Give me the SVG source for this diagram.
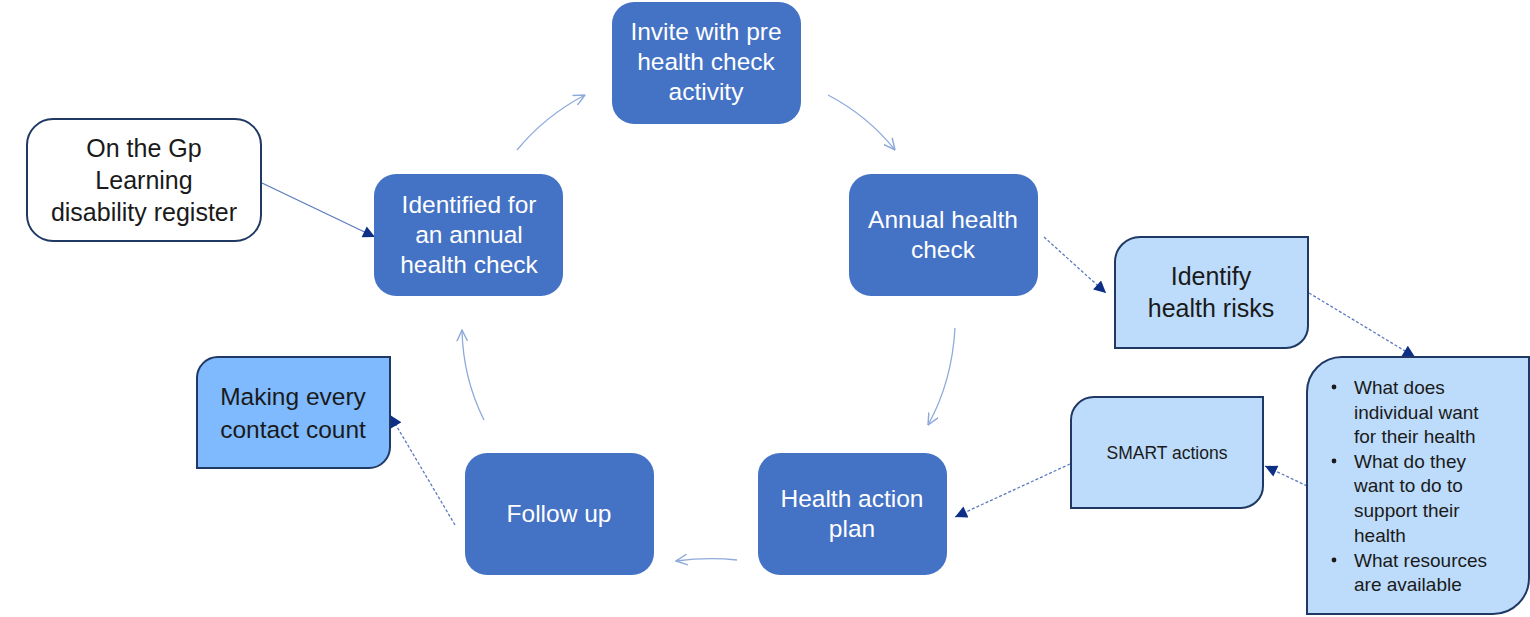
<svg xmlns="http://www.w3.org/2000/svg" width="1530" height="617" viewBox="0 0 1530 617">
<style>
.main{fill:#4472C4;}
.mt{font-family:"Liberation Sans",Arial,sans-serif;font-size:24.5px;fill:#ffffff;text-anchor:middle;}
.lt{font-family:"Liberation Sans",Arial,sans-serif;fill:#1a1a1a;text-anchor:middle;}
.light{fill:#BDDCFB;stroke:#1F3864;stroke-width:2;}
.bt{font-family:"Liberation Sans",Arial,sans-serif;font-size:19px;fill:#1a1a1a;}
.curve{fill:none;stroke:#8EAADB;stroke-width:1.3;marker-end:url(#open);}
.dash{fill:none;stroke:#5B7BC0;stroke-width:1.3;stroke-dasharray:3 2;marker-end:url(#tri);}
</style>
<defs>
<marker id="tri" viewBox="0 0 10 10" refX="10" refY="5" markerWidth="13" markerHeight="12" markerUnits="userSpaceOnUse" orient="auto">
<path d="M0,0 L10,5 L0,10 z" fill="#0E2F86"/>
</marker>
<marker id="open" viewBox="0 0 10 10" refX="9.5" refY="5" markerWidth="12" markerHeight="12" markerUnits="userSpaceOnUse" orient="auto">
<path d="M0,0.5 L9.5,5 L0,9.5" fill="none" stroke="#8EAADB" stroke-width="1.2"/>
</marker>
</defs>
<rect width="1530" height="617" fill="#ffffff"/>

<g id="connectors">
<path class="curve" d="M517,150 Q545,116 585,95"/>
<path class="curve" d="M828,95 Q868,116 895,150"/>
<path class="curve" d="M955,328 Q952,382 928,425"/>
<path class="curve" d="M737,560 Q707,557 676,561"/>
<path class="curve" d="M484,420 Q463,378 462,330"/>
<path d="M262,183 L375,237" fill="none" stroke="#5B7BC0" stroke-width="1.3" marker-end="url(#tri)"/>
<path class="dash" d="M1044,237 L1106,293"/>
<path class="dash" d="M1309,293 L1415,357"/>
<path class="dash" d="M1307,486 L1265,466"/>
<path class="dash" d="M1070,464 L955,517"/>
<path class="dash" d="M455,525 L390,415"/>
</g>

<g id="invite">
<rect class="main" x="612" y="2" width="189" height="122" rx="22"/>
<text class="mt" x="706" y="40">Invite with pre</text>
<text class="mt" x="706" y="70">health check</text>
<text class="mt" x="706" y="100">activity</text>
</g>

<g id="annual">
<rect class="main" x="849" y="174" width="189" height="122" rx="22"/>
<text class="mt" x="943" y="228">Annual health</text>
<text class="mt" x="943" y="258">check</text>
</g>

<g id="identified">
<rect class="main" x="374" y="174" width="189" height="122" rx="22"/>
<text class="mt" x="469" y="213">Identified for</text>
<text class="mt" x="469" y="243">an annual</text>
<text class="mt" x="469" y="273">health check</text>
</g>

<g id="followup">
<rect class="main" x="465" y="453" width="189" height="122" rx="22"/>
<text class="mt" x="559" y="522">Follow up</text>
</g>

<g id="actionplan">
<rect class="main" x="758" y="453" width="189" height="122" rx="22"/>
<text class="mt" x="852" y="507">Health action</text>
<text class="mt" x="852" y="537">plan</text>
</g>

<g id="register">
<rect x="27" y="119" width="234" height="122" rx="26" fill="#ffffff" stroke="#1F3864" stroke-width="2"/>
<text class="lt" x="144" y="157" font-size="25">On the Gp</text>
<text class="lt" x="144" y="189" font-size="25">Learning</text>
<text class="lt" x="144" y="221" font-size="25">disability register</text>
</g>

<g id="risks">
<path class="light" d="M1140,237 H1308 V326 A22,22 0 0 1 1286,348 H1115 V262 A25,25 0 0 1 1140,237 Z"/>
<text class="lt" x="1211" y="285" font-size="25">Identify</text>
<text class="lt" x="1211" y="317" font-size="25">health risks</text>
</g>

<g id="smart">
<path class="light" d="M1094,397 H1263 V486 A22,22 0 0 1 1241,508 H1071 V420 A23,23 0 0 1 1094,397 Z"/>
<text class="lt" x="1167" y="459" font-size="17.5">SMART actions</text>
</g>

<g id="questions">
<path class="light" d="M1342,357 H1529 V578 A36,36 0 0 1 1493,614 H1307 V392 A35,35 0 0 1 1342,357 Z"/>
<g class="bt">
<circle cx="1334" cy="387" r="2.4" fill="#1a1a1a"/>
<circle cx="1334" cy="461" r="2.4" fill="#1a1a1a"/>
<circle cx="1334" cy="560" r="2.4" fill="#1a1a1a"/>
<text x="1354" y="394">What does</text>
<text x="1354" y="419">individual want</text>
<text x="1354" y="443">for their health</text>
<text x="1354" y="468">What do they</text>
<text x="1354" y="492">want to do to</text>
<text x="1354" y="517">support their</text>
<text x="1354" y="542">health</text>
<text x="1354" y="567">What resources</text>
<text x="1354" y="591">are available</text>
</g>
</g>

<g id="making">
<path d="M218,357 H390 V447 A21,21 0 0 1 369,468 H197 V378 A21,21 0 0 1 218,357 Z" fill="#7FBAFF" stroke="#1F3864" stroke-width="2"/>
<text class="lt" x="293" y="405" font-size="24.5">Making every</text>
<text class="lt" x="293" y="438" font-size="24.5">contact count</text>
</g>
</svg>
